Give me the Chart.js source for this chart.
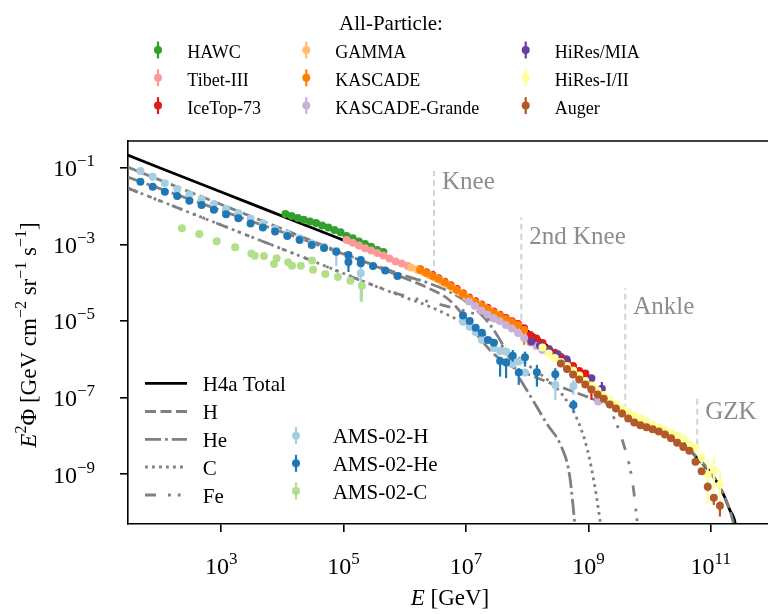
<!DOCTYPE html>
<html>
<head>
<meta charset="utf-8">
<script src="https://cdn.jsdelivr.net/npm/chart.js@4.4.1/dist/chart.umd.min.js"></script>
<style>
  html, body { margin: 0; padding: 0; background: #fff; overflow: hidden; }
  #caixa { width: 768px; height: 614px; overflow: hidden; }
</style>
</head>
<body>
<div id="caixa"><canvas id="espectro" width="776" height="614"></canvas></div>
<script>
// Espectro de raios cósmicos (E^2 * fluxo) com o modelo H4a e dados de vários experimentos

const xTicks = [1e3, 1e5, 1e7, 1e9, 1e11]
const yTicks = [1e-9, 1e-7, 1e-5, 1e-3, 1e-1]

// ---- modelo H4a ----
const totalE = [29.6, 1e3, 1e4, 8.30e4, 2.55e5, 7.83e5, 1.72e6, 3.51e6, 7.41e6, 1.57e7, 3.31e7, 7.01e7, 1.48e8, 3.13e8, 6.62e8, 1.16e9, 2.04e9, 3.57e9, 6.27e9, 1.10e10, 1.93e10, 3.37e10, 5.92e10, 1.0e11, 1.57e11, 2.04e11, 2.50e11, 2.63e11]
const totalF = [0.214, 2.33e-2, 5.47e-3, 1.44e-3, 7.13e-4, 3.57e-4, 2.21e-4, 1.32e-4, 6.07e-5, 2.95e-5, 1.52e-5, 7.87e-6, 3.61e-6, 1.30e-6, 4.68e-7, 2.01e-7, 9.23e-8, 4.76e-8, 2.78e-8, 1.82e-8, 1.27e-8, 7.40e-9, 2.67e-9, 1.08e-9, 3.26e-10, 1.17e-10, 5.21e-11, 2.6e-11]

const hE = [29.6, 1e3, 1.85e4, 7.83e5, 2.41e6, 5.09e6, 8.93e6, 1.57e7, 2.96e7, 6.27e7, 2.15e8, 9.64e8, 3.31e9, 9.10e9, 2.80e10, 5.92e10, 1.0e11, 1.57e11, 2.04e11, 2.63e11]
const hF = [0.104, 1.10e-2, 1.70e-3, 1.54e-4, 7.26e-5, 3.75e-5, 1.44e-5, 4.06e-6, 1.30e-6, 5.94e-7, 2.56e-7, 1.04e-7, 4.76e-8, 2.06e-8, 7.40e-9, 2.83e-9, 1.08e-9, 3.26e-10, 1.17e-10, 2.6e-11]

const heE = [29.6, 1e3, 1.85e4, 7.83e5, 2.41e6, 5.09e6, 1.08e7, 2.28e7, 4.00e7, 7.01e7, 1.23e8, 2.15e8, 3.51e8, 4.91e8, 6.15e8]
const heF = [5.71e-2, 7.64e-3, 1.47e-3, 1.74e-4, 9.82e-5, 6.07e-5, 2.95e-5, 9.42e-6, 2.37e-6, 3.90e-7, 8.69e-8, 1.94e-8, 5.82e-9, 9.62e-10, 3.53e-11]

const cE = [29.6, 1e3, 1.85e4, 7.83e5, 2.41e6, 5.09e6, 1.08e7, 2.28e7, 4.82e7, 1.02e8, 2.15e8, 3.78e8, 6.62e8, 9.64e8, 1.30e9, 1.63e9]
const cF = [2.95e-2, 3.20e-3, 5.12e-4, 4.78e-5, 2.47e-5, 1.44e-5, 7.87e-6, 3.83e-6, 1.75e-6, 7.11e-7, 2.89e-7, 1.17e-7, 2.62e-8, 4.32e-9, 3.90e-10, 3.53e-11]

const feE = [29.6, 1e3, 1.85e4, 7.83e5, 3.51e6, 1.57e7, 4.82e7, 1.48e8, 3.78e8, 9.64e8, 2.04e9, 3.57e9, 5.19e9, 6.50e9]
const feF = [2.95e-2, 3.20e-3, 5.12e-4, 5.07e-5, 2.78e-5, 1.44e-5, 6.98e-6, 2.84e-6, 1.08e-6, 2.89e-7, 6.44e-8, 7.87e-9, 7.11e-10, 3.53e-11]

// ---- espectro de todas as partículas ----
const hawcE = [1.12e4, 1.41e4, 1.78e4, 2.24e4, 2.82e4, 3.55e4, 4.47e4, 5.62e4, 7.08e4, 8.91e4, 1.12e5, 1.41e5, 1.78e5, 2.24e5, 2.82e5, 3.55e5, 4.47e5]
const hawcF = [6.19e-3, 5.50e-3, 4.88e-3, 4.40e-3, 3.94e-3, 3.61e-3, 3.10e-3, 2.75e-3, 2.37e-3, 2.07e-3, 1.65e-3, 1.44e-3, 1.19e-3, 1.02e-3, 8.69e-4, 7.13e-4, 6.32e-4]

const tibetE = [1.12e5, 1.41e5, 1.78e5, 2.24e5, 2.82e5, 3.55e5, 4.47e5, 5.62e5, 7.08e5, 8.91e5, 1.12e6]
const tibetF = [1.30e-3, 1.10e-3, 9.33e-4, 7.89e-4, 6.92e-4, 5.96e-4, 5.12e-4, 4.28e-4, 3.57e-4, 3.17e-4, 2.72e-4]

const icetopE = [1.78e6, 2.24e6, 2.82e6, 3.55e6, 4.47e6, 5.62e6, 7.08e6, 8.91e6, 1.12e7, 1.41e7, 1.78e7, 2.24e7, 2.82e7, 3.55e7, 4.47e7, 5.62e7, 7.08e7, 8.91e7, 1.12e8, 1.41e8, 1.78e8, 2.24e8, 2.82e8, 3.55e8, 4.47e8, 5.62e8, 7.08e8, 8.91e8, 1.12e9]
const icetopF = [2.25e-4, 1.88e-4, 1.58e-4, 1.31e-4, 1.06e-4, 8.6e-5, 6.8e-5, 5.3e-5, 4.1e-5, 3.3e-5, 2.7e-5, 2.2e-5, 1.76e-5, 1.46e-5, 1.19e-5, 9.9e-6, 8.3e-6, 6.5e-6, 4.32e-6, 3.50e-6, 2.67e-6, 1.86e-6, 1.47e-6, 1.15e-6, 9.06e-7, 6.71e-7, 4.97e-7, 4.28e-7, 1.85e-7]
const icetopErr = [[1.12e8, 3.3e-6, 5.2e-6], [1.12e9, 8.7e-8, 2.4e-7]]

const gammaE = [1.26e6, 1.58e6, 2.00e6, 2.51e6, 3.16e6, 3.98e6, 5.01e6, 6.31e6, 7.94e6, 1.00e7, 1.26e7, 1.58e7, 2.00e7, 2.51e7, 3.16e7]
const gammaF = [2.49e-4, 2.21e-4, 1.90e-4, 1.59e-4, 1.32e-4, 1.07e-4, 8.71e-5, 6.84e-5, 5.55e-5, 4.24e-5, 3.43e-5, 2.78e-5, 2.25e-5, 1.82e-5, 1.48e-5]

const kascadeE = [1.78e6, 2.24e6, 2.82e6, 3.55e6, 4.47e6, 5.62e6, 7.08e6, 8.91e6, 1.12e7, 1.41e7, 1.78e7, 2.24e7, 2.82e7, 3.55e7, 4.47e7, 5.62e7, 7.08e7, 8.91e7]
const kascadeF = [2.14e-4, 1.79e-4, 1.50e-4, 1.25e-4, 1.01e-4, 8.20e-5, 6.44e-5, 5.07e-5, 3.87e-5, 3.13e-5, 2.54e-5, 2.06e-5, 1.67e-5, 1.39e-5, 1.13e-5, 9.42e-6, 7.87e-6, 5.83e-6]
const kascadeErr = [[8.91e7, 2.37e-6, 6.98e-6]]

const grandeE = [1.12e7, 1.41e7, 1.78e7, 2.24e7, 2.82e7, 3.55e7, 4.47e7, 5.62e7, 7.08e7, 8.91e7, 1.12e8, 1.41e8, 1.78e8, 1.44e9]
const grandeF = [3.23e-5, 2.47e-5, 1.88e-5, 1.48e-5, 1.20e-5, 1.00e-5, 7.87e-6, 6.38e-6, 4.86e-6, 3.61e-6, 2.75e-6, 2.23e-6, 1.75e-6, 7.87e-8]

const hiresMiaE = [1.17e8, 1.62e8, 2.29e8, 3.16e8, 4.37e8, 1.12e9, 1.66e9]
const hiresMiaF = [2.89e-6, 2.29e-6, 1.75e-6, 1.35e-6, 1.00e-6, 3.21e-7, 1.69e-7]
const hiresMiaErr = [[1.66e9, 9.82e-8, 2.56e-7]]

const hiresE = [1.78e8, 2.24e8, 2.82e8, 3.55e8, 4.47e8, 5.62e8, 7.08e8, 8.91e8, 1.12e9, 1.41e9, 1.78e9, 2.24e9, 2.82e9, 3.55e9, 4.47e9, 5.62e9, 7.08e9, 8.91e9, 1.12e10, 1.41e10, 1.78e10, 2.24e10, 2.82e10, 3.55e10, 4.47e10, 5.62e10, 7.08e10, 8.91e10, 1.12e11, 1.41e11]
const hiresF = [2.04e-6, 1.42e-6, 1.08e-6, 8.53e-7, 6.71e-7, 5.12e-7, 3.79e-7, 2.72e-7, 2.08e-7, 1.54e-7, 1.17e-7, 8.69e-8, 6.84e-8, 5.22e-8, 4.10e-8, 3.43e-8, 2.86e-8, 2.32e-8, 1.88e-8, 1.62e-8, 1.44e-8, 1.20e-8, 1.00e-8, 8.36e-9, 6.18e-9, 4.86e-9, 2.67e-9, 9.62e-10, 1.30e-9, 5.27e-10]
const hiresErr = [[7.08e10, 1.8e-9, 3.8e-9], [8.91e10, 1.58e-10, 2.37e-9], [1.12e11, 3.46e-10, 2.67e-9], [1.41e11, 2.14e-10, 1.30e-9]]

const augerE = [3.55e8, 4.47e8, 5.62e8, 7.08e8, 8.91e8, 1.12e9, 1.41e9, 1.78e9, 2.24e9, 2.82e9, 3.55e9, 4.47e9, 5.62e9, 7.08e9, 8.91e9, 1.12e10, 1.41e10, 1.78e10, 2.24e10, 2.82e10, 3.55e10, 4.47e10, 5.62e10, 7.08e10, 8.91e10, 1.12e11, 1.41e11]
const augerF = [7.80e-7, 5.60e-7, 4.03e-7, 2.98e-7, 2.21e-7, 1.63e-7, 1.21e-7, 9.25e-8, 6.64e-8, 5.22e-8, 3.86e-8, 2.86e-8, 2.25e-8, 1.88e-8, 1.67e-8, 1.48e-8, 1.31e-8, 1.09e-8, 8.61e-9, 6.58e-9, 5.16e-9, 4.06e-9, 2.10e-9, 1.19e-9, 4.68e-10, 2.42e-10, 1.49e-10]
const augerErr = [[8.91e10, 3.6e-10, 6.0e-10], [1.12e11, 1.58e-10, 2.72e-10], [1.41e11, 7.85e-11, 1.93e-10]]

// ---- AMS-02 e composição ----
const amsHE = [47.9, 75.9, 120, 191, 302, 479, 759, 1200, 1910, 3020, 4790, 7590, 1.20e4, 1.91e4, 3.02e4, 4.79e4, 7.59e4, 1.20e5, 1.91e5, 8.93e6, 1.15e7, 1.44e7, 1.82e7, 2.85e7, 3.61e7, 4.52e7, 5.81e7, 7.28e7, 9.20e7, 2.88e8, 5.70e8]
const amsHF = [8.20e-2, 5.82e-2, 3.92e-2, 2.78e-2, 2.02e-2, 1.52e-2, 1.13e-2, 8.36e-3, 6.46e-3, 4.73e-3, 3.54e-3, 2.52e-3, 1.86e-3, 1.44e-3, 1.07e-3, 8.69e-4, 6.84e-4, 4.76e-4, 1.76e-4, 9.59e-6, 7.11e-6, 5.08e-6, 3.20e-6, 1.94e-6, 1.65e-6, 1.58e-6, 7.57e-7, 8.69e-7, 4.49e-7, 2.14e-7, 2.02e-7]
const amsHErr = [[7.59e4, 2.7e-4, 7.1e-4], [1.20e5, 2.42e-4, 6.32e-4], [1.91e5, 3.19e-5, 2.90e-4], [2.88e8, 8.7e-8, 2.86e-7], [5.70e8, 1.17e-7, 2.86e-7]]

const amsHeE = [47.9, 75.9, 120, 191, 302, 479, 759, 1200, 1910, 3020, 4790, 7590, 1.20e4, 1.91e4, 3.02e4, 4.79e4, 7.59e4, 1.20e5, 1.91e5, 3.02e5, 4.79e5, 7.59e5, 1.20e5, 1.91e5, 8.93e6, 1.15e7, 1.44e7, 1.82e7, 2.28e7, 2.85e7, 3.61e7, 4.52e7, 5.81e7, 7.28e7, 9.20e7, 1.44e8, 2.88e8, 5.70e8]
const amsHeF = [4.32e-2, 3.19e-2, 2.37e-2, 1.83e-2, 1.38e-2, 1.06e-2, 8.02e-3, 6.12e-3, 4.79e-3, 3.50e-3, 2.75e-3, 2.17e-3, 1.65e-3, 1.30e-3, 9.62e-4, 8.04e-4, 6.44e-4, 5.27e-4, 3.91e-4, 2.72e-4, 2.08e-4, 1.50e-4, 3.47e-4, 3.21e-4, 1.38e-5, 1.00e-5, 6.70e-6, 4.95e-6, 3.20e-6, 2.72e-6, 9.06e-7, 8.18e-7, 1.24e-6, 4.49e-7, 1.13e-6, 4.59e-7, 4.07e-7, 6.44e-8]
const amsHeErr = [[1.20e5, 1.90e-4, 5.27e-4], [3.61e7, 3.52e-7, 1.17e-6], [4.52e7, 3.21e-7, 1.06e-6], [5.81e7, 8.69e-7, 1.75e-6], [7.28e7, 2.14e-7, 5.83e-7], [9.20e7, 6.43e-7, 1.58e-6], [1.44e8, 1.93e-7, 7.13e-7], [2.88e8, 2.89e-7, 5.83e-7], [5.70e8, 4.31e-8, 8.69e-8]]

const amsCE = [228, 438, 845, 1690, 3110, 3530, 5000, 7280, 8050, 1.24e4, 1.44e4, 2.00e4, 3.05e4, 3.17e4, 5.04e4, 8.07e4, 1.29e5, 1.99e5]
const amsCF = [2.62e-3, 1.86e-3, 1.20e-3, 8.38e-4, 5.78e-4, 5.06e-4, 4.97e-4, 3.08e-4, 4.33e-4, 3.40e-4, 2.76e-4, 2.77e-4, 3.79e-4, 2.18e-4, 1.69e-4, 1.41e-4, 1.13e-4, 8.30e-5]
const amsCErr = [[1.99e5, 3.19e-5, 9.79e-5]]

// ---- marcas do espectro ----
const featNomes = ['Knee', '2nd Knee', 'Ankle', 'GZK']
const featE = [3e6, 8e7, 4e9, 6e10]
const featTopo = [8.2e-2, 5.1e-3, 7.1e-5, 1.0e-7]
const featBase = [1.5e-4, 5.9e-6, 4.8e-8, 5.9e-9]
const featTextoF = [2.78e-2, 1.0e-3, 1.5e-5, 2.78e-8]

const FONTE = "'Liberation Serif', 'Times New Roman', serif"
const CINZA = '#808080'
const RAIO = 4

function pts(xs, ys) {
    return xs.map((x, i) => ({ x: x, y: ys[i] }))
}

function serie(label, xs, ys, cor, ordem, erros) {
    return {
        type: 'scatter', label: label, data: pts(xs, ys),
        backgroundColor: cor, borderColor: cor, borderWidth: 0,
        pointRadius: RAIO, pointHoverRadius: RAIO,
        order: ordem, erros: erros || null
    }
}

function modelo(label, xs, ys, cor, tracejado, ordem) {
    return {
        type: 'line', label: label, data: pts(xs, ys),
        borderColor: cor, borderWidth: 2.8, borderDash: tracejado,
        borderCapStyle: 'butt', pointRadius: 0, fill: false,
        cubicInterpolationMode: 'monotone', order: ordem
    }
}

const marcas = featE.map((e, i) => ({
    type: 'line', label: featNomes[i],
    data: [{ x: e, y: featBase[i] }, { x: e, y: featTopo[i] }],
    borderColor: '#d3d3d3', borderWidth: 2, borderDash: [6, 4],
    pointRadius: 0, order: 1000
}))

const tracos = {
    total: [], H: [11, 4.5], He: [16, 4, 2.8, 4], C: [2.8, 4.2], Fe: [11, 12, 2.8, 7, 2.8, 12]
}

const todas = [
    ['HAWC', '#33a02c'], ['Tibet-III', '#fb9a99'], ['IceTop-73', '#e31a1c'],
    ['GAMMA', '#fdbf6f'], ['KASCADE', '#ff7f00'], ['KASCADE-Grande', '#cab2d6'],
    ['HiRes/MIA', '#6a3d9a'], ['HiRes-I/II', '#ffff99'], ['Auger', '#b15928']
]
const ams = [['AMS-02-H', '#a6cee3'], ['AMS-02-He', '#1f78b4'], ['AMS-02-C', '#b2df8a']]

const datasets = [
    ...marcas,
    modelo('H4a Total', totalE, totalF, '#000', tracos.total, 905),
    modelo('H', hE, hF, CINZA, tracos.H, 904),
    modelo('He', heE, heF, CINZA, tracos.He, 903),
    modelo('C', cE, cF, CINZA, tracos.C, 902),
    modelo('Fe', feE, feF, CINZA, tracos.Fe, 901),
    serie('HAWC', hawcE, hawcF, '#33a02c', 20),
    serie('Tibet-III', tibetE, tibetF, '#fb9a99', 19),
    serie('IceTop-73', icetopE, icetopF, '#e31a1c', 18, icetopErr),
    serie('GAMMA', gammaE, gammaF, '#fdbf6f', 17),
    serie('KASCADE', kascadeE, kascadeF, '#ff7f00', 16, kascadeErr),
    serie('KASCADE-Grande', grandeE, grandeF, '#cab2d6', 15),
    serie('HiRes/MIA', hiresMiaE, hiresMiaF, '#6a3d9a', 14, hiresMiaErr),
    serie('HiRes-I/II', hiresE, hiresF, '#ffff99', 13, hiresErr),
    serie('Auger', augerE, augerF, '#b15928', 12, augerErr),
    serie('AMS-02-H', amsHE, amsHF, '#a6cee3', 11, amsHErr),
    serie('AMS-02-He', amsHeE, amsHeF, '#1f78b4', 10, amsHeErr),
    serie('AMS-02-C', amsCE, amsCF, '#b2df8a', 9, amsCErr)
]

// barras de erro desenhadas logo antes dos pontos de cada série
const barrasErro = {
    id: 'barrasErro',
    beforeDatasetDraw(chart, args) {
        const ds = chart.data.datasets[args.index]
        if (!ds.erros) return
        const { ctx, chartArea: a, scales: { x, y } } = chart
        ctx.save()
        ctx.beginPath(); ctx.rect(a.left, a.top, a.right - a.left, a.bottom - a.top); ctx.clip()
        ctx.strokeStyle = ds.backgroundColor
        ctx.lineWidth = 2.2
        ds.erros.forEach(e => {
            const px = x.getPixelForValue(e[0])
            ctx.beginPath()
            ctx.moveTo(px, y.getPixelForValue(e[1]))
            ctx.lineTo(px, y.getPixelForValue(e[2]))
            ctx.stroke()
        })
        ctx.restore()
    }
}

function fonte(p, tam) {
    return (p.i ? 'italic ' : '') + (p.s ? Math.round(tam * 0.7) : tam) + 'px ' + FONTE
}

// texto com expoentes: partes = [{t, i (itálico), s (sobrescrito)}]
function textoRico(ctx, partes, x, y, tam, alinhar) {
    let w = 0
    partes.forEach(p => { ctx.font = fonte(p, tam); w += ctx.measureText(p.t).width })
    let cx = alinhar === 'center' ? x - w / 2 : alinhar === 'right' ? x - w : x
    partes.forEach(p => {
        ctx.font = fonte(p, tam)
        ctx.fillText(p.t, cx, p.s ? y - tam * 0.42 : y)
        cx += ctx.measureText(p.t).width
    })
}

function expoente(v) {
    const n = Math.round(Math.log10(v))
    return (n < 0 ? '\u2212' : '') + Math.abs(n)
}

function marcadorErro(ctx, x, y, cor) {
    ctx.strokeStyle = cor
    ctx.fillStyle = cor
    ctx.lineWidth = 2.2
    ctx.beginPath(); ctx.moveTo(x, y - 8.5); ctx.lineTo(x, y + 8.5); ctx.stroke()
    ctx.beginPath(); ctx.arc(x, y, RAIO, 0, Math.PI * 2); ctx.fill()
}

const decoracao = {
    id: 'decoracao',
    afterDatasetsDraw(chart) {
        const { ctx, scales: { x, y } } = chart
        ctx.save()
        ctx.fillStyle = '#8c8c8c'
        ctx.font = '25px ' + FONTE
        ctx.textAlign = 'left'
        featNomes.forEach((n, i) => {
            ctx.fillText(n, x.getPixelForValue(featE[i]) + 8, y.getPixelForValue(featTextoF[i]))
        })
        ctx.restore()
    },
    afterDraw(chart) {
        const { ctx, chartArea: a, scales: { x, y } } = chart
        ctx.save()
        ctx.fillStyle = '#000'
        ctx.textAlign = 'left'
        ctx.textBaseline = 'alphabetic'

        // moldura superior
        ctx.strokeStyle = '#000'
        ctx.lineWidth = 1.6
        ctx.beginPath(); ctx.moveTo(a.left, a.top); ctx.lineTo(a.right, a.top); ctx.stroke()

        // rótulos dos ticks
        xTicks.forEach(v => {
            textoRico(ctx, [{ t: '10' }, { t: expoente(v), s: true }], x.getPixelForValue(v), 574, 24, 'center')
        })
        yTicks.forEach(v => {
            textoRico(ctx, [{ t: '10' }, { t: expoente(v), s: true }], 95, y.getPixelForValue(v) + 8.5, 24, 'right')
        })

        // títulos dos eixos
        textoRico(ctx, [{ t: 'E', i: true }, { t: ' [GeV]' }], (a.left + a.right) / 2, 605, 23, 'center')
        ctx.save()
        ctx.translate(36, 335)
        ctx.rotate(-Math.PI / 2)
        textoRico(ctx, [
            { t: 'E', i: true }, { t: '2', s: true }, { t: '\u03A6 [GeV cm' }, { t: '\u22122', s: true },
            { t: ' sr' }, { t: '\u22121', s: true }, { t: ' s' }, { t: '\u22121', s: true }, { t: ']' }
        ], 0, 0, 23, 'center')
        ctx.restore()

        // legenda superior
        ctx.font = '21px ' + FONTE
        ctx.textAlign = 'center'
        ctx.fillText('All-Particle:', 391, 29.5)
        ctx.textAlign = 'left'
        const colMarca = [158, 306.3, 525.7]
        const colTexto = [187.3, 335.3, 554.7]
        const linhas = [50, 77.8, 105.6]
        todas.forEach((s, i) => {
            const c = Math.floor(i / 3), l = i % 3
            marcadorErro(ctx, colMarca[c], linhas[l], s[1])
            ctx.fillStyle = '#000'
            ctx.font = '18px ' + FONTE
            ctx.fillText(s[0], colTexto[c], linhas[l] + 8)
        })

        // legenda do modelo
        const mods = [['H4a Total', '#000', tracos.total], ['H', CINZA, tracos.H], ['He', CINZA, tracos.He], ['C', CINZA, tracos.C], ['Fe', CINZA, tracos.Fe]]
        const linhasM = [383.3, 411.5, 439.3, 467, 495]
        mods.forEach((m, i) => {
            ctx.strokeStyle = m[1]
            ctx.lineWidth = 2.8
            ctx.lineCap = 'butt'
            ctx.setLineDash(m[2])
            ctx.beginPath(); ctx.moveTo(145, linhasM[i]); ctx.lineTo(187, linhasM[i]); ctx.stroke()
            ctx.setLineDash([])
            ctx.fillStyle = '#000'
            ctx.font = '21px ' + FONTE
            ctx.fillText(m[0], 202.7, linhasM[i] + 7.5)
        })
        const linhasA = [435.7, 463.3, 491]
        ams.forEach((s, i) => {
            marcadorErro(ctx, 296, linhasA[i], s[1])
            ctx.fillStyle = '#000'
            ctx.font = '21px ' + FONTE
            ctx.fillText(s[0], 332.7, linhasA[i] + 7.5)
        })
        ctx.restore()
    }
}

const eixo = {
    type: 'logarithmic',
    ticks: { display: false },
    grid: { display: true, drawOnChartArea: false, drawTicks: true, tickLength: 8, color: '#000', lineWidth: 1.6 },
    border: { display: true, color: '#000', width: 1.6 }
}

window.addEventListener('load', setup)
function setup() {
    const ctx = document.getElementById('espectro').getContext('2d')
    new Chart(ctx, {
        type: 'scatter',
        data: { datasets: datasets },
        options: {
            responsive: false,
            animation: false,
            devicePixelRatio: 1,
            layout: { padding: { top: 141, right: 0, bottom: 0, left: 0 } },
            plugins: { legend: { display: false }, tooltip: { enabled: false } },
            scales: {
                x: Object.assign({}, eixo, {
                    min: 30, max: 1e12,
                    afterBuildTicks: s => { s.ticks = xTicks.map(v => ({ value: v })) },
                    afterFit: s => { s.height = 90 }
                }),
                y: Object.assign({}, eixo, {
                    min: 5e-11, max: 0.5,
                    afterBuildTicks: s => { s.ticks = yTicks.map(v => ({ value: v })) },
                    afterFit: s => { s.width = 128 }
                })
            }
        },
        plugins: [barrasErro, decoracao]
    })
}
</script>
</body>
</html>
